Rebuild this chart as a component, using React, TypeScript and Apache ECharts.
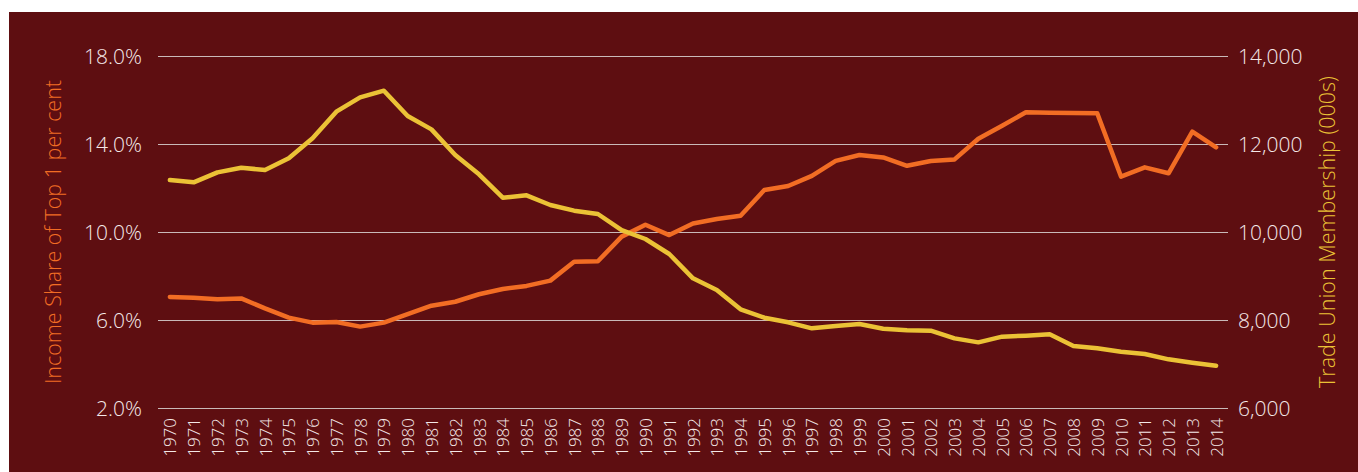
import React, { useEffect, useRef } from "react";
import * as echarts from "echarts";

const years = [
  "1970","1971","1972","1973","1974","1975","1976","1977","1978","1979",
  "1980","1981","1982","1983","1984","1985","1986","1987","1988","1989",
  "1990","1991","1992","1993","1994","1995","1996","1997","1998","1999",
  "2000","2001","2002","2003","2004","2005","2006","2007","2008","2009",
  "2010","2011","2012","2013","2014",
];

const incomeShareTop1 = [
  7.05, 7.01, 6.94, 6.98, 6.53, 6.11, 5.88, 5.91, 5.70, 5.88,
  6.27, 6.65, 6.83, 7.17, 7.41, 7.55, 7.79, 8.65, 8.67, 9.79,
  10.33, 9.86, 10.39, 10.59, 10.74, 11.91, 12.09, 12.55, 13.23, 13.5,
  13.39, 13.01, 13.23, 13.30, 14.24, 14.83, 15.44, 15.42, 15.41, 15.40,
  12.52, 12.94, 12.67, 14.56, 13.85,
];

const unionMembership = [
  11182, 11129, 11356, 11462, 11409, 11674, 12129, 12735, 13061, 13212,
  12636, 12333, 11750, 11311, 10780, 10833, 10614, 10485, 10409, 10045,
  9841, 9500, 8947, 8682, 8242, 8053, 7947, 7811, 7864, 7909,
  7803, 7765, 7757, 7583, 7492, 7621, 7644, 7674, 7409, 7356,
  7280, 7227, 7106, 7030, 6962,
];

const leftAxisName = "Income Share of Top 1 per cent";
const rightAxisName = "Trade Union Membership (000s)";

const BG = "#5e0e11";
const ORANGE = "#f26d24";
const YELLOW = "#ebc236";
const LABEL = "#f4e8e8";
const GRID = "#c9b9b9";
const FONT = "'Open Sans', 'DejaVu Sans', sans-serif";

export default function App() {
  const ref = useRef<HTMLDivElement>(null);

  useEffect(() => {
    if (!ref.current) return;
    const chart = echarts.init(ref.current, undefined, { renderer: "svg" });
    chart.setOption({
      animation: false,
      backgroundColor: BG,
      grid: { left: 149, right: 130, top: 44, bottom: 64, containLabel: false },
      xAxis: {
        type: "category",
        data: years,
        boundaryGap: true,
        axisLine: { show: false },
        axisTick: { show: false },
        axisLabel: {
          rotate: 90,
          interval: 0,
          margin: 10,
          color: LABEL,
          fontFamily: FONT,
          fontSize: 17,
          fontWeight: 300,
        },
      },
      yAxis: [
        {
          type: "value",
          min: 2,
          max: 18,
          interval: 4,
          name: leftAxisName,
          nameLocation: "middle",
          nameGap: 95,
          nameRotate: 90,
          nameTextStyle: { color: ORANGE, fontFamily: FONT, fontSize: 21.5, fontWeight: 300 },
          axisLine: { show: false },
          axisTick: { show: false },
          axisLabel: {
            margin: 16,
            color: LABEL,
            fontFamily: FONT,
            fontSize: 21,
            fontWeight: 300,
            formatter: (v: number) => v.toFixed(1) + "%",
          },
          splitLine: { show: true, lineStyle: { color: GRID, width: 1 } },
        },
        {
          type: "value",
          min: 6000,
          max: 14000,
          interval: 2000,
          name: rightAxisName,
          nameLocation: "middle",
          nameGap: 87,
          nameRotate: 90,
          nameTextStyle: { color: YELLOW, fontFamily: FONT, fontSize: 21.5, fontWeight: 300 },
          axisLine: { show: false },
          axisTick: { show: false },
          axisLabel: {
            margin: 10,
            color: LABEL,
            fontFamily: FONT,
            fontSize: 21,
            fontWeight: 300,
            formatter: (v: number) => v.toLocaleString("en-US"),
          },
          splitLine: { show: false },
        },
      ],
      series: [
        {
          name: leftAxisName,
          type: "line",
          yAxisIndex: 0,
          data: incomeShareTop1,
          showSymbol: false,
          lineStyle: { color: ORANGE, width: 4.5, cap: "round", join: "round" },
          itemStyle: { color: ORANGE },
        },
        {
          name: rightAxisName,
          type: "line",
          yAxisIndex: 1,
          data: unionMembership,
          showSymbol: false,
          lineStyle: { color: YELLOW, width: 4.5, cap: "round", join: "round" },
          itemStyle: { color: YELLOW },
        },
      ],
    });
    return () => chart.dispose();
  }, []);

  return (
    <div
      ref={ref}
      style={{ position: "absolute", left: 9, top: 12, width: 1349, height: 460 }}
    />
  );
}
